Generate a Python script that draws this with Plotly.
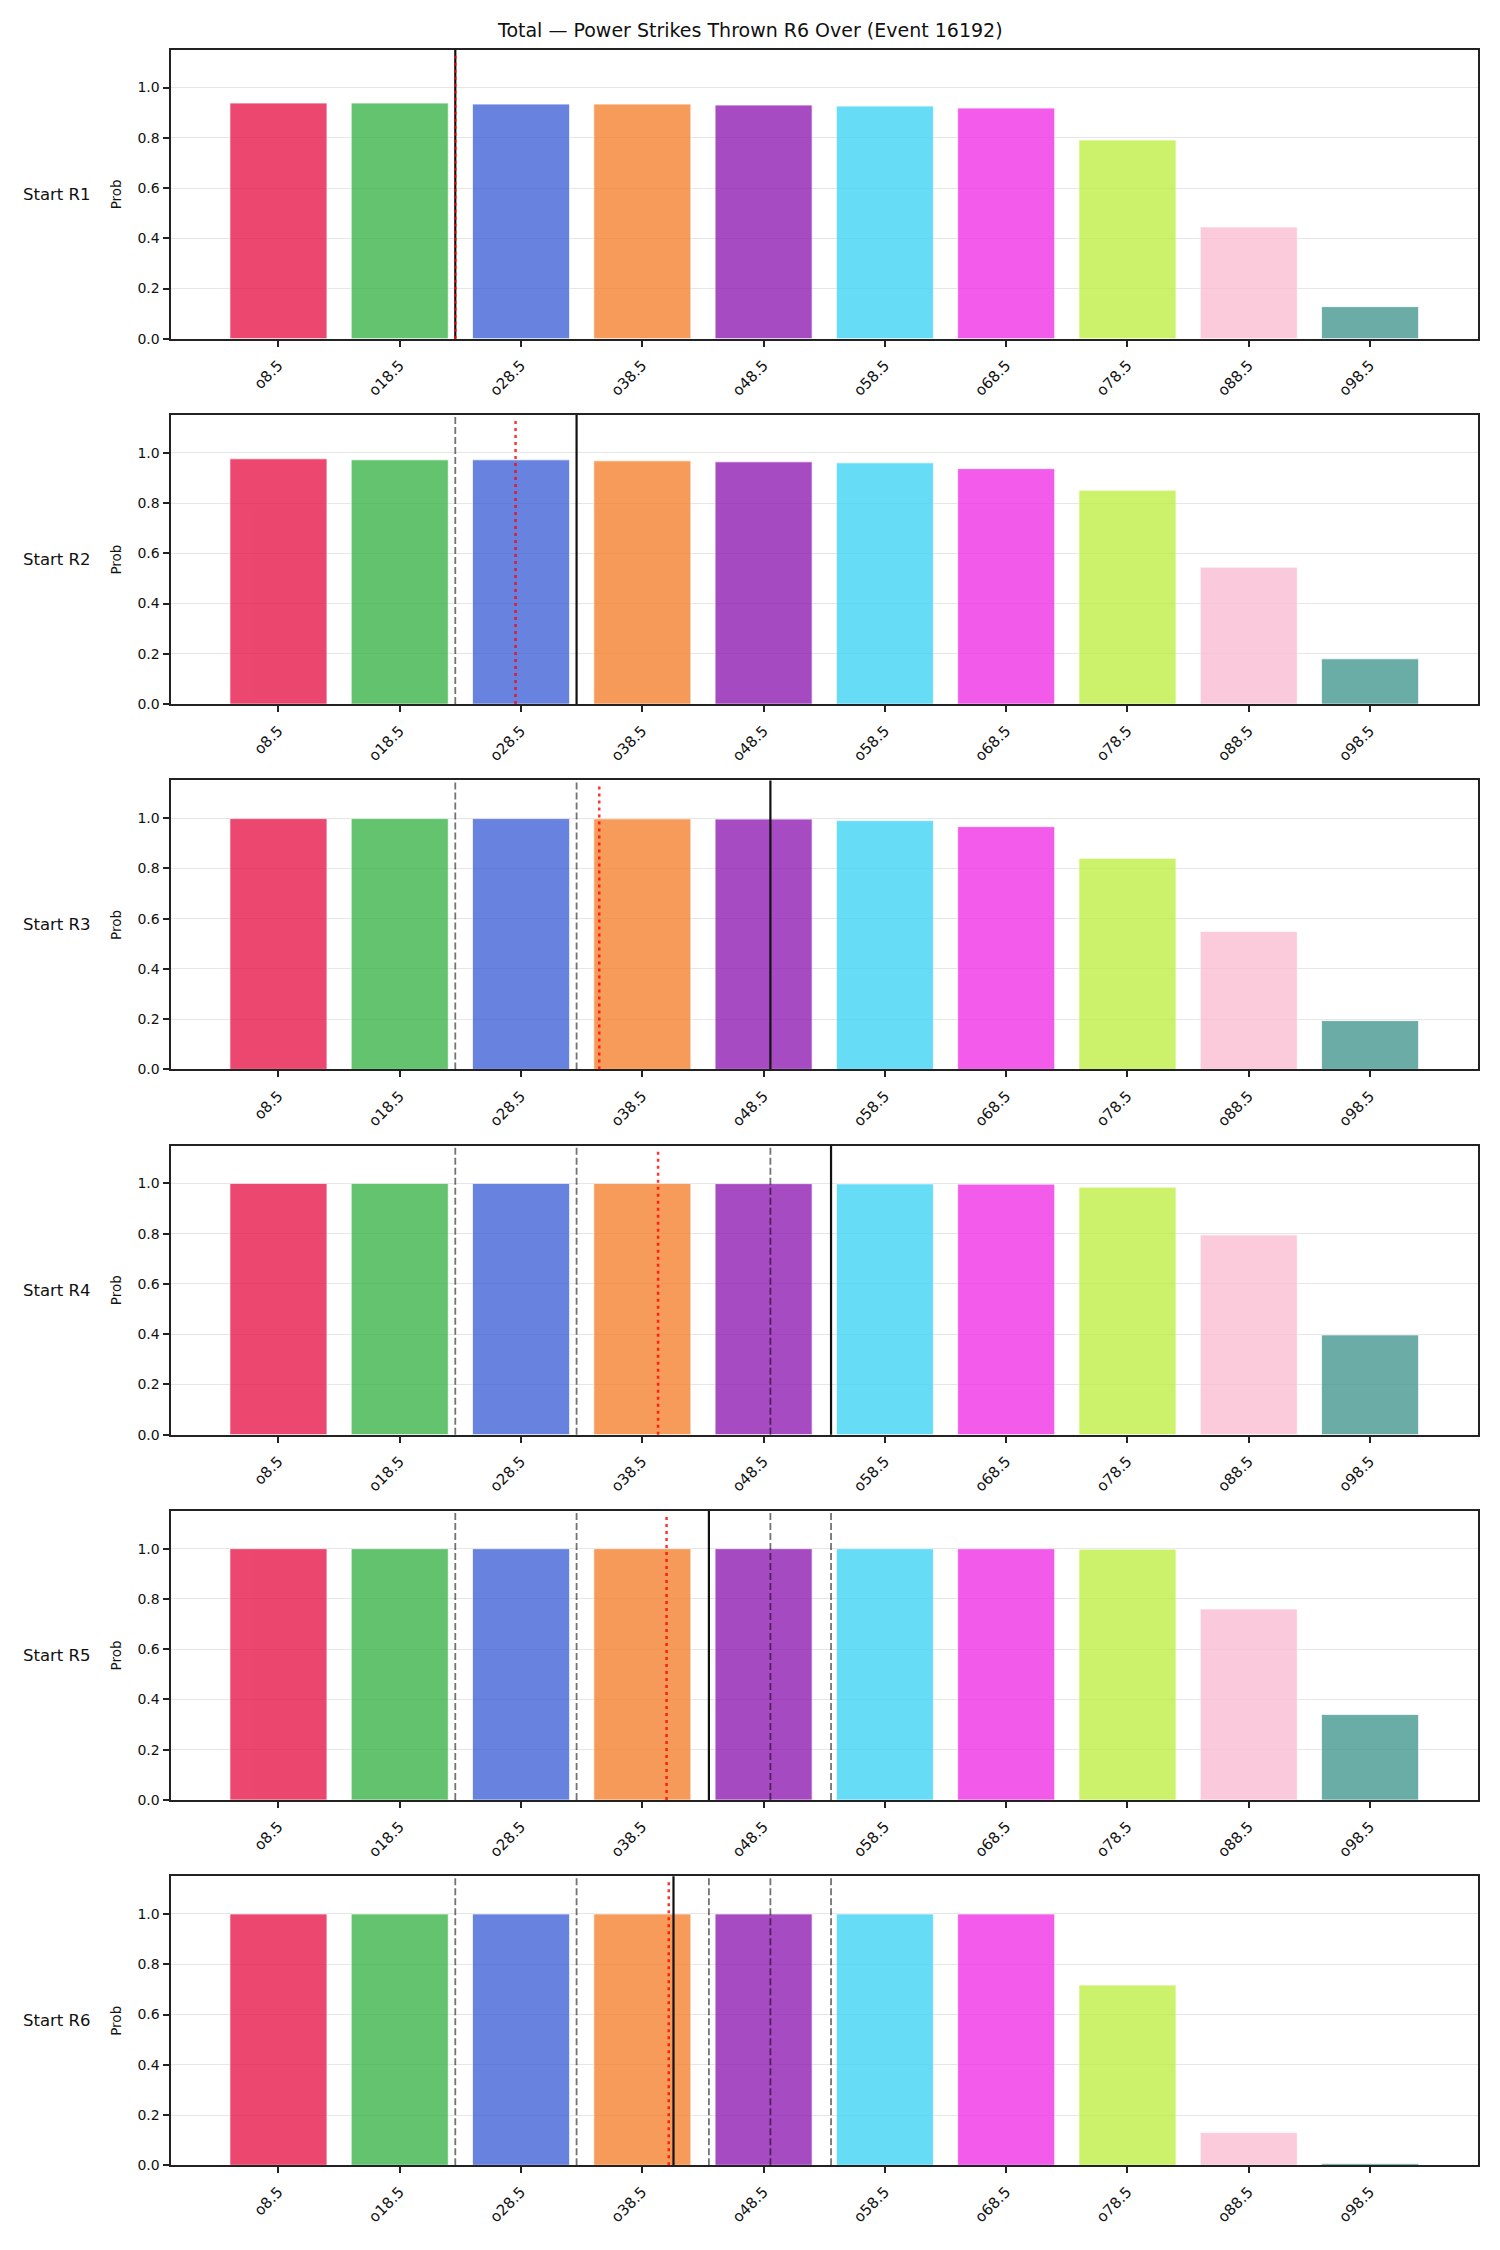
import plotly.graph_objects as go
from plotly.subplots import make_subplots

# ---------------- data ----------------
line_labels = ["o8.5", "o18.5", "o28.5", "o38.5", "o48.5",
               "o58.5", "o68.5", "o78.5", "o88.5", "o98.5"]
round_labels = ["Start R1", "Start R2", "Start R3", "Start R4", "Start R5", "Start R6"]

probs_r1 = [0.938, 0.938, 0.934, 0.934, 0.930, 0.926, 0.918, 0.791, 0.445, 0.128]
probs_r2 = [0.976, 0.972, 0.972, 0.968, 0.964, 0.960, 0.937, 0.851, 0.545, 0.180]
probs_r3 = [0.998, 0.998, 0.998, 0.997, 0.996, 0.990, 0.966, 0.840, 0.549, 0.194]
probs_r4 = [1.000, 1.000, 1.000, 1.000, 0.999, 0.998, 0.997, 0.985, 0.795, 0.397]
probs_r5 = [1.000, 1.000, 1.000, 1.000, 1.000, 1.000, 1.000, 0.998, 0.760, 0.340]
probs_r6 = [1.000, 1.000, 1.000, 1.000, 1.000, 1.000, 1.000, 0.717, 0.130, 0.007]
all_probs = [probs_r1, probs_r2, probs_r3, probs_r4, probs_r5, probs_r6]

# marker positions (in bar-index units) per round
current_pos = [1.458, 2.458, 4.056, 4.556, 3.549, 3.257]      # solid black
projection_pos = [1.458, 1.955, 2.645, 3.130, 3.200, 3.218]   # red dotted

bar_colors = ["#e6194b", "#3cb44b", "#4363d8", "#f58231", "#911eb4",
              "#42d4f4", "#f032e6", "#bfef45", "#fabed4", "#469990"]

title_text = "Total — Power Strikes Thrown R6 Over (Event 16192)"

# ---------------- layout geometry ----------------
W, H = 1500, 2250
LEFT, RIGHT = 170.5, 1478.0
TOP0, PERIOD, PH = 50.0, 366.6, 290.0
FONT = "DejaVu Sans"
AX = "#222222"

fig = make_subplots(rows=6, cols=1)

annotations = []
shapes = []
xs = list(range(len(line_labels)))

for i, vals in enumerate(all_probs):
    r = i + 1
    fig.add_trace(go.Bar(
        x=xs, y=vals, width=0.8,
        marker=dict(color=bar_colors, opacity=0.8,
                    line=dict(color="white", width=0.7)),
        showlegend=False,
        hovertemplate="%{customdata}: %{y:.3f}<extra></extra>",
        customdata=line_labels,
    ), row=r, col=1)

    top = TOP0 + PERIOD * i
    bot = top + PH
    ydom = [1 - bot / H, 1 - top / H]
    xsuf = "" if r == 1 else str(r)

    fig.layout["xaxis" + xsuf].update(
        domain=[LEFT / W, RIGHT / W], range=[-0.89, 9.89],
        tickmode="array", tickvals=xs, ticktext=line_labels, tickangle=-45,
        ticks="outside", ticklen=6, tickwidth=1.5, tickcolor=AX,
        ticklabelstandoff=4,
        showline=True, linecolor=AX, linewidth=2, mirror=True,
        showgrid=False, zeroline=False,
        tickfont=dict(family=FONT, size=15, color="#111"),
    )
    fig.layout["yaxis" + xsuf].update(
        domain=ydom, range=[0, 1.15],
        tickmode="array", tickvals=[0, 0.2, 0.4, 0.6, 0.8, 1.0],
        ticktext=["0.0", "0.2", "0.4", "0.6", "0.8", "1.0"],
        ticks="outside", ticklen=6, tickwidth=1.5, tickcolor=AX,
        showline=True, linecolor=AX, linewidth=2, mirror=True,
        showgrid=True, gridcolor="#e6e6e6", gridwidth=1, zeroline=False,
        tickfont=dict(family=FONT, size=14, color="#111"),
    )

    xref = "x" + xsuf
    ydref = "y" + xsuf + " domain"
    # previous rounds' lines, dashed grey
    for j in range(i):
        shapes.append(dict(type="line", xref=xref, yref=ydref,
                           x0=current_pos[j], x1=current_pos[j], y0=0, y1=1,
                           line=dict(color="rgba(0,0,0,0.55)", width=1.8, dash="7px,3px"),
                           layer="above"))
    # current line, solid black
    shapes.append(dict(type="line", xref=xref, yref=ydref,
                       x0=current_pos[i], x1=current_pos[i], y0=0, y1=1,
                       line=dict(color="#111111", width=2.2), layer="above"))
    # projection, red dotted
    shapes.append(dict(type="line", xref=xref, yref=ydref,
                       x0=projection_pos[i], x1=projection_pos[i], y0=0, y1=0.98,
                       line=dict(color="rgba(255,0,0,0.8)", width=2.5, dash="3px,4px"),
                       layer="above"))

    ymid = 1 - (top + PH / 2) / H
    annotations.append(dict(text=round_labels[i], xref="paper", yref="paper",
                            x=56.5 / W, y=ymid, xanchor="center", yanchor="middle",
                            showarrow=False,
                            font=dict(family=FONT, size=16.5, color="#111")))
    annotations.append(dict(text="Prob", xref="paper", yref="paper",
                            x=116 / W, y=ymid, xanchor="center", yanchor="middle",
                            textangle=-90, showarrow=False,
                            font=dict(family=FONT, size=13.5, color="#111")))

annotations.append(dict(text=title_text, xref="paper", yref="paper",
                        x=0.5, y=1 - 30 / H, xanchor="center", yanchor="middle",
                        showarrow=False,
                        font=dict(family=FONT, size=19, color="#111")))

fig.update_layout(
    width=W, height=H,
    margin=dict(l=0, r=0, t=0, b=0),
    paper_bgcolor="white", plot_bgcolor="white",
    bargap=0.2,
    shapes=shapes, annotations=annotations,
    font=dict(family=FONT, color="#111"),
)

fig.write_html("out.html")
